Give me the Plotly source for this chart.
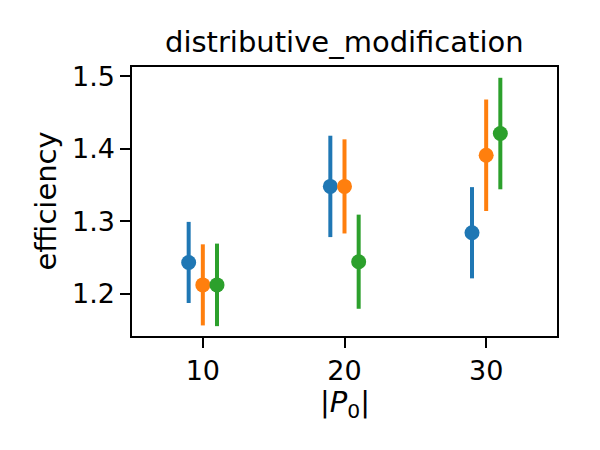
import plotly.graph_objects as go

p0 = [10, 20, 30]
series_names = ["series 1", "series 2", "series 3"]
colors = ["#1f77b4", "#ff7f0e", "#2ca02c"]
means = [
    [1.243, 1.348, 1.284],
    [1.212, 1.348, 1.391],
    [1.212, 1.244, 1.421],
]
errs = [
    [0.056, 0.070, 0.063],
    [0.056, 0.065, 0.077],
    [0.057, 0.065, 0.077],
]
x_ticks = [10, 20, 30]
y_ticks = [1.2, 1.3, 1.4, 1.5]

fig = go.Figure()
for i, (name, c, m, e) in enumerate(zip(series_names, colors, means, errs)):
    off = i - 1
    fig.add_trace(go.Scatter(
        x=[p + off for p in p0], y=m, mode="markers", name=name,
        marker=dict(color=c, size=15, line=dict(width=0)),
        error_y=dict(type="data", array=e, visible=True, color=c, thickness=4, width=0),
        showlegend=False,
    ))

font = "DejaVu Sans"
axis_common = dict(
    showline=True, linecolor="black", linewidth=2.2, mirror=True,
    ticks="outside", ticklen=9.5, tickwidth=2.2, tickcolor="black",
    showgrid=False, zeroline=False,
    tickfont=dict(family=font, size=27, color="black"),
)
fig.update_layout(
    width=600, height=450,
    margin=dict(l=132, r=43, t=67, b=114),
    paper_bgcolor="white", plot_bgcolor="white",
    xaxis=dict(range=[5, 35], tickvals=x_ticks, ticktext=[str(v) for v in x_ticks], **axis_common),
    yaxis=dict(range=[1.1414, 1.5129], tickvals=y_ticks, ticktext=[f"{v:.1f}" for v in y_ticks], **axis_common),
    annotations=[
        dict(text="distributive_modification", x=0.5, y=1, xref="paper", yref="paper",
             xanchor="center", yanchor="bottom", yshift=6, showarrow=False,
             font=dict(family=font, size=29, color="black")),
        dict(text="efficiency", x=0, y=0.5, xref="paper", yref="paper",
             xanchor="right", yanchor="middle", xshift=-68, textangle=-90, showarrow=False,
             font=dict(family=font, size=29, color="black")),
        dict(text="|<i>P</i><sub>0</sub>|", x=0.5, y=0, xref="paper", yref="paper",
             xanchor="center", yanchor="top", yshift=-47, showarrow=False,
             font=dict(family=font, size=29, color="black")),
    ],
)
fig.write_html("out.html")
